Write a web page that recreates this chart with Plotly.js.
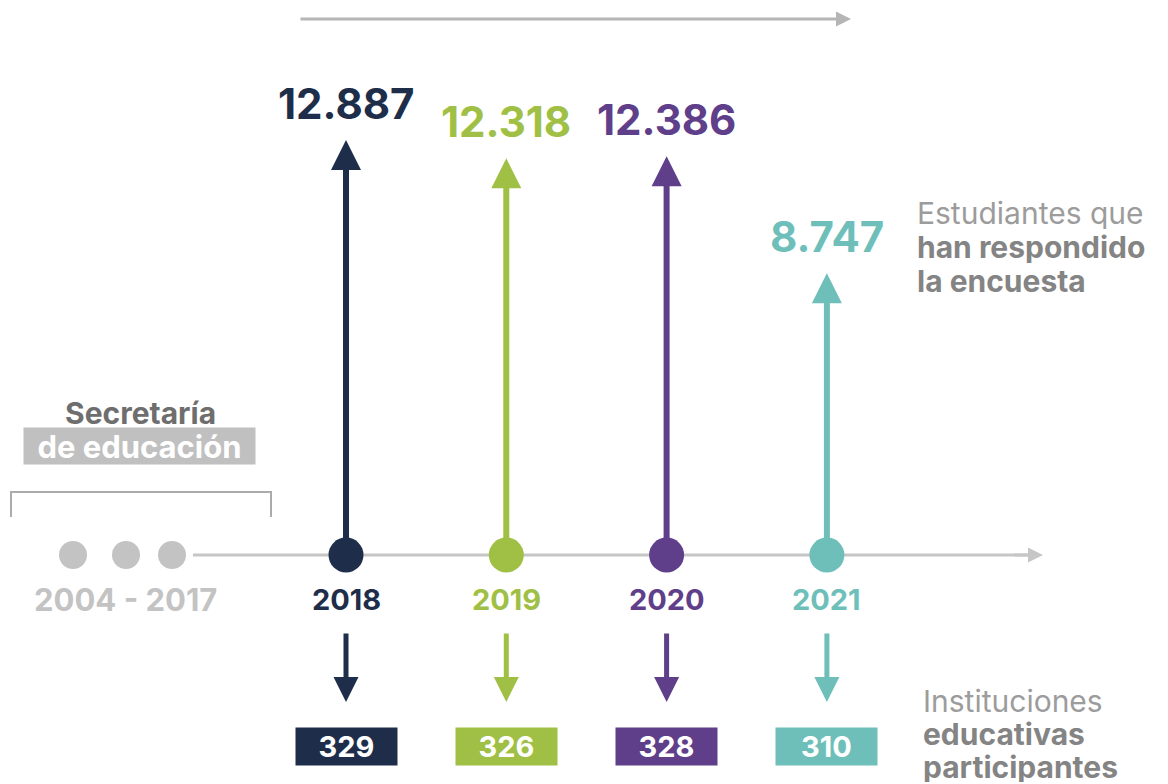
<!DOCTYPE html>
<html>
<head>
<meta charset="utf-8">
<script src="https://cdn.plot.ly/plotly-3.0.1.min.js"></script>
<style>html,body{margin:0;padding:0;background:#fff;}#chart{width:1168px;height:784px;}</style>
</head>
<body>
<div id="chart"></div>
<script>
// ---- data ----
const years = [2018, 2019, 2020, 2021];
const yearLabels = ['2018', '2019', '2020', '2021'];
const students = [12887, 12318, 12386, 8747];
const institutions = [329, 326, 328, 310];
const pastLabel = '2004 - 2017';
const pastTitle = 'Secretaría';
const pastSubtitle = 'de educación';
const studentsCaption = ['Estudiantes que', 'han respondido', 'la encuesta'];
const instCaption = ['Instituciones', 'educativas', 'participantes'];

// ---- style ----
const palette = ['#1e2d4a', '#a0c045', '#5f3e8a', '#6ebfba'];
const FONT = 'Inter, "Open Sans", sans-serif';
const W = 1168, H = 784;
const px = x => x / W;          // pixel -> paper x
const py = y => 1 - y / H;      // pixel -> paper y
const fmt = v => String(v).replace(/\B(?=(\d{3})+(?!\d))/g, '.');

const xRange = [2015.8415, 2023.1279];
const yRange = [-7112, 17236];

const traces = [{
  type: 'scatter', mode: 'markers',
  x: years, y: years.map(() => 0),
  marker: {size: 35, color: palette, line: {width: 0}},
  hoverinfo: 'skip', cliponaxis: false
}];

const shapes = [];
// timeline base line
shapes.push({type: 'line', xref: 'paper', yref: 'y', x0: px(193), x1: px(1030), y0: 0, y1: 0,
  line: {color: '#c6c6c6', width: 3}, layer: 'below'});
// grey dots
[73, 126, 172].forEach(cx => shapes.push({type: 'circle', xref: 'paper', yref: 'paper',
  x0: px(cx - 14), x1: px(cx + 14), y0: py(555 + 14), y1: py(555 - 14),
  fillcolor: '#c3c3c3', line: {width: 0}}));
// bracket
shapes.push({type: 'path', xref: 'paper', yref: 'paper',
  path: `M${px(11)},${py(517)} L${px(11)},${py(492)} L${px(271)},${py(492)} L${px(271)},${py(517)}`,
  line: {color: '#ababab', width: 2}});

const ann = [];
// top grey arrow
ann.push({xref: 'paper', yref: 'paper', x: px(851), y: py(19), ax: -552, ay: 0, text: '',
  showarrow: true, arrowhead: 2, arrowsize: 1, arrowwidth: 3, arrowcolor: '#b5b5b5'});
// timeline arrow head
ann.push({xref: 'paper', yref: 'y', x: px(1043), y: 0, ax: -30, ay: 0, text: '',
  showarrow: true, arrowhead: 2, arrowsize: 1, arrowwidth: 3, arrowcolor: '#c6c6c6'});

years.forEach((yr, i) => {
  // student arrows (length from data)
  ann.push({xref: 'x', yref: 'y', axref: 'x', ayref: 'y', x: yr, y: students[i], ax: yr, ay: 0,
    text: '', showarrow: true, arrowhead: 2, arrowsize: 1, arrowwidth: 6, arrowcolor: palette[i]});
  // student values
  ann.push({xref: 'x', yref: 'y', x: yr, y: students[i], yshift: 37, xanchor: 'center', yanchor: 'middle',
    text: '<b>' + fmt(students[i]) + '</b>', showarrow: false,
    font: {family: FONT, size: 42, color: palette[i]}});
  // year labels
  ann.push({xref: 'x', yref: 'y', x: yr, y: 0, yshift: -44, xanchor: 'center', yanchor: 'middle',
    text: '<b>' + yearLabels[i] + '</b>', showarrow: false,
    font: {family: FONT, size: 29, color: palette[i]}});
  // down arrows
  ann.push({xref: 'x', yref: 'paper', x: yr, y: py(702), ax: 0, ay: -70, text: '',
    showarrow: true, arrowhead: 2, arrowsize: 1, arrowwidth: 5, arrowcolor: palette[i]});
  // institution boxes
  ann.push({xref: 'x', yref: 'paper', x: yr, y: py(746.5), xanchor: 'center', yanchor: 'middle',
    text: '<b>' + institutions[i] + '</b>', showarrow: false,
    width: 101, height: 37, borderpad: 0, bgcolor: palette[i],
    font: {family: FONT, size: 29, color: '#ffffff'}});
});

// past period
ann.push({xref: 'paper', yref: 'paper', x: px(125), y: py(599), xanchor: 'center', yanchor: 'middle',
  text: '<b>' + pastLabel + '</b>', showarrow: false,
  font: {family: FONT, size: 31, color: '#c3c3c3'}});
ann.push({xref: 'paper', yref: 'paper', x: px(140), y: py(413), xanchor: 'center', yanchor: 'middle',
  text: '<b>' + pastTitle + '</b>', showarrow: false,
  font: {family: FONT, size: 30, color: '#6e6e6e'}});
ann.push({xref: 'paper', yref: 'paper', x: px(139.5), y: py(446), xanchor: 'center', yanchor: 'middle',
  text: '<b>' + pastSubtitle + '</b>', showarrow: false,
  width: 231, height: 36, borderpad: 0, bgcolor: '#c0c0c0',
  font: {family: FONT, size: 31, color: '#ffffff'}});

// captions
const capStyle = (t, j) => (j === 0 ? t : '<b>' + t + '</b>');
studentsCaption.forEach((t, j) => ann.push({xref: 'paper', yref: 'paper', x: px(916), y: py(213 + 34 * j),
  xanchor: 'left', yanchor: 'middle', text: capStyle(t, j), showarrow: false,
  height: 32, borderpad: 0, valign: 'middle',
  font: {family: FONT, size: 30, color: j === 0 ? '#9c9c9c' : '#848484'}}));
instCaption.forEach((t, j) => ann.push({xref: 'paper', yref: 'paper', x: px(922), y: py(700 + 33 * j),
  xanchor: 'left', yanchor: 'middle', text: capStyle(t, j), showarrow: false,
  height: 31, borderpad: 0, valign: 'middle',
  font: {family: FONT, size: 30, color: j === 0 ? '#9c9c9c' : '#848484'}}));

const layout = {
  width: W, height: H,
  margin: {l: 0, r: 0, t: 0, b: 0, pad: 0},
  paper_bgcolor: '#ffffff', plot_bgcolor: '#ffffff',
  showlegend: false,
  xaxis: {range: xRange, visible: false, fixedrange: true},
  yaxis: {range: yRange, visible: false, fixedrange: true},
  shapes: shapes, annotations: ann
};

Plotly.newPlot('chart', traces, layout, {displayModeBar: false, staticPlot: true});
</script>
</body>
</html>
